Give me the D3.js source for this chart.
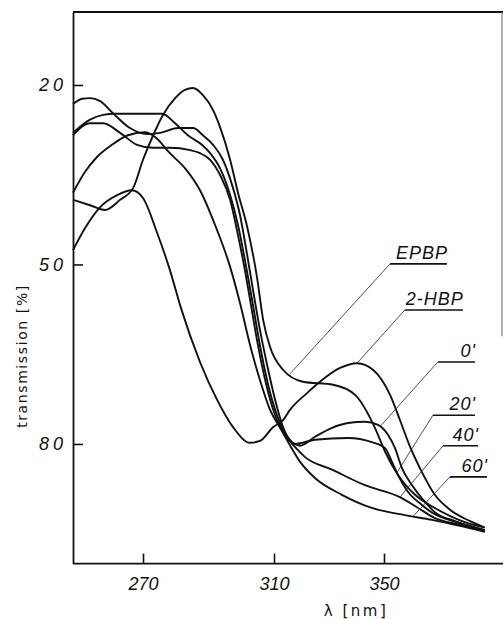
<!DOCTYPE html>
<html>
<head>
<meta charset="utf-8">
<script src="https://cdn.jsdelivr.net/npm/d3@7"></script>
<style>
  body { margin: 0; background: #fff; }
  svg { display: block; }
  .tick text { font-family: "Liberation Sans", sans-serif; font-style: italic; font-size: 18px; fill: #111; }
  .lbl { font-family: "Liberation Sans", sans-serif; font-style: italic; font-size: 18px; fill: #111; }
  .ttl { font-family: "DejaVu Sans", sans-serif; fill: #111; }
</style>
</head>
<body>
<div id="chart"></div>
<script>
// wavelength (nm) and transmission (%)
const lamEPBP = [248.6, 253.8, 258.4, 263, 267, 270, 273.1, 275.8, 279.8, 282.8, 285.3, 288.3, 291.4, 293.5, 296.6, 299, 301.8, 304.8, 306.7, 308.8, 313.3, 320.5, 331.5, 339.5, 346.7, 350.4, 355.1, 361.3, 368.5, 380.2, 386];
const valEPBP = [39.2, 40.1, 40.9, 39.2, 37.2, 32.5, 28.4, 25.3, 22.2, 20.8, 20.5, 21.7, 24.2, 27, 32.5, 38, 43.7, 52.1, 59.3, 63.8, 67.6, 69.6, 70.1, 71.8, 77.3, 81.3, 85.2, 88.5, 90.7, 93.2, 93.9];

const lamHBP = [248.6, 252.3, 256.9, 262.1, 266.6, 270, 274.3, 278.2, 281.6, 287.4, 292.6, 297.5, 302.7, 305.7, 309.7, 313.3, 315.8, 322, 326.7, 334, 340.2, 346, 352.2, 355.8, 359.5, 363.8, 368.5, 374, 381.3, 386.7];
const valHBP = [47.6, 43.9, 40.4, 38.4, 37.6, 38.9, 44.7, 50.9, 57.3, 66.3, 72.6, 77.2, 79.8, 79.5, 77.2, 76, 74.3, 71.5, 69.6, 67.3, 66.5, 67.6, 71.8, 76, 80.5, 84.7, 88.5, 91, 92.9, 94];

const lam0 = [248.6, 251.4, 253.8, 256.9, 260.8, 266, 271.2, 275.2, 280.7, 285.3, 288.3, 291.4, 294.4, 297.2, 299.6, 301.8, 303.6, 305.7, 307.9, 310.4, 313.3, 316.5, 319.5, 324.9, 331.1, 336.9, 343.1, 347.8, 351.5, 354, 356.5, 360.2, 364.9, 368.5, 375.8, 386.7];
const val0 = [23.2, 22.3, 22.2, 22.7, 24.7, 27.2, 28.2, 28, 27.2, 27.2, 28.4, 30, 32.5, 36.7, 41.7, 48.4, 54.3, 60.9, 66.8, 72.6, 77.2, 79.7, 80.3, 78.8, 77.3, 76.5, 76.3, 76.8, 78.5, 80.7, 84, 86.9, 89.7, 91.4, 92.9, 94.4];

const lam20 = [248.6, 253.8, 257.8, 261.5, 269.1, 275.8, 279.8, 283.7, 288, 290.5, 293.5, 296.6, 299, 301.1, 303.3, 305.7, 308.2, 311.1, 314.4, 317.6, 324.9, 336.9, 345.6, 350.4, 352.9, 355.1, 358.7, 363.8, 367.5, 375.8, 386.7];
const val20 = [28, 25.8, 25, 24.8, 24.8, 24.8, 26.4, 28.4, 30, 31.4, 33.9, 38.4, 43.4, 49.2, 55.9, 63.5, 70.1, 75.2, 78.5, 80, 79.3, 79, 79.7, 80.7, 83, 85.2, 88, 90.2, 91.5, 93, 94.4];

const lam40 = [248.6, 253.8, 257.8, 263, 268.2, 273.1, 278.2, 284.4, 287.4, 290.5, 293.5, 296.6, 299, 301.1, 302.7, 304.8, 307.3, 310.4, 314, 317.6, 321.3, 331.1, 343.1, 355.8, 362.4, 368.5, 377.6, 386.7];
const val40 = [28.4, 26.4, 26.4, 28, 30, 30.5, 30.5, 30.9, 31.4, 32.5, 35, 39.2, 45.1, 50.9, 55.9, 62.6, 69.3, 75.2, 78.5, 80.5, 82.2, 84.3, 86.9, 88.9, 90.7, 92.4, 93.5, 94.5];

const lam60 = [248.6, 252.3, 256, 260.5, 265.4, 270.6, 273.7, 278.2, 282.8, 287.4, 292, 296.6, 299.6, 302.7, 305.7, 308.8, 312.2, 315.8, 319.5, 324.9, 334.7, 345.6, 357.6, 367.5, 377.6, 386.7];
const val60 = [38, 34.5, 32, 30, 28.4, 27.9, 28.7, 31.4, 33.9, 37.6, 43.4, 50.4, 56.4, 63.5, 69.3, 74.3, 77.3, 80.2, 83, 85.7, 88.5, 90.7, 91.9, 92.7, 93.7, 94.7];

const xTicks = [270, 310, 350];
const yTicks = [20, 50, 80];

// label callouts: name, wavelength where the leader hits the curve, underline ends and level
const labelNames = ["EPBP", "2-HBP", "0'", "20'", "40'", "60'"];
const labelTouch = [315.8, 340.2, 348.5, 354.7, 355.8, 360.5];
const labelLeft = [352.2, 357.6, 369.6, 367.8, 371.5, 374];
const labelRight = [372.9, 378.7, 383.1, 383.1, 384.2, 387.5];
const labelLevel = [49.9, 57.6, 66.3, 75.2, 80.3, 85.5];

let series = [
    { name: "EPBP", lam: lamEPBP, val: valEPBP },
    { name: "2-HBP", lam: lamHBP, val: valHBP },
    { name: "0'", lam: lam0, val: val0 },
    { name: "20'", lam: lam20, val: val20 },
    { name: "40'", lam: lam40, val: val40 },
    { name: "60'", lam: lam60, val: val60 }
];
series.forEach(s => s.points = s.lam.map((l, i) => ({ lam: l, val: s.val[i] })));

let W = 504, H = 619;
let svg = d3.select("#chart").append("svg").attr("width", W).attr("height", H);

// the printed wavelength axis is not evenly spaced, so piecewise scale
let x = d3.scaleLinear().domain([248.6, 270, 310, 350, 393.3]).range([73, 143, 274, 384, 503]);
let y = d3.scaleLinear().domain([7.8, 100]).range([12, 563.6]);

let line = d3.line().x(d => x(d.lam)).y(d => y(d.val)).curve(d3.curveMonotoneX);

svg.append("g").selectAll("path")
    .data(series)
    .enter()
    .append("path")
    .attr("d", d => line(d.points))
    .attr("fill", "none")
    .attr("stroke", "#111")
    .attr("stroke-width", 1.9)
    .attr("stroke-linejoin", "round");

// frame
let x0 = x.range()[0], x1 = x.range()[4], yTop = y.range()[0], yBot = y.range()[1];
svg.append("line").attr("x1", x0).attr("x2", x1).attr("y1", yTop).attr("y2", yTop)
    .attr("stroke", "#111").attr("stroke-width", 1.8);
svg.append("line").attr("x1", x1 - 1).attr("x2", x1 - 1).attr("y1", yTop).attr("y2", y(62))
    .attr("stroke", "#666").attr("stroke-width", 1);

let xAxis = svg.append("g")
    .attr("transform", "translate(0," + yBot + ")")
    .call(d3.axisBottom(x).tickValues(xTicks).tickSize(-10).tickSizeOuter(0).tickPadding(14).tickFormat(d3.format("d")));
let yAxis = svg.append("g")
    .attr("transform", "translate(" + x0 + ",0)")
    .call(d3.axisLeft(y).tickValues(yTicks).tickSize(-10).tickSizeOuter(0).tickFormat(d3.format("d")));

[xAxis, yAxis].forEach(a => {
    a.select(".domain").attr("stroke", "#111").attr("stroke-width", 1.8);
    a.selectAll(".tick line").attr("stroke", "#111").attr("stroke-width", 1.6);
});
xAxis.select(".domain").attr("d", "M" + x0 + ",0H" + x1);
yAxis.selectAll(".tick text")
    .attr("text-anchor", "start")
    .attr("x", -34)
    .attr("letter-spacing", "4px");

// axis titles
svg.append("text")
    .attr("class", "ttl")
    .attr("transform", "translate(27,356) rotate(-90)")
    .attr("text-anchor", "middle")
    .attr("font-size", "14px")
    .attr("letter-spacing", "1.6px")
    .text("transmission [%]");
svg.append("text")
    .attr("class", "ttl")
    .attr("x", 356)
    .attr("y", 616)
    .attr("text-anchor", "middle")
    .attr("font-size", "15px")
    .attr("letter-spacing", "2.5px")
    .text("λ  [nm]");

// callouts
function valueAt(s, l) {
    let i = d3.bisector(d => d.lam).left(s.points, l);
    let a = s.points[Math.max(i - 1, 0)], b = s.points[Math.min(i, s.points.length - 1)];
    if (a === b) return a.val;
    return a.val + (b.val - a.val) * (l - a.lam) / (b.lam - a.lam);
}

let labelLayer = svg.append("g");
labelNames.forEach((name, i) => {
    let s = series.find(d => d.name === name);
    let ly = y(labelLevel[i]);
    labelLayer.append("line")
        .attr("x1", x(labelLeft[i])).attr("y1", ly)
        .attr("x2", x(labelTouch[i])).attr("y2", y(valueAt(s, labelTouch[i])))
        .attr("stroke", "#222").attr("stroke-width", 0.8);
    labelLayer.append("line")
        .attr("x1", x(labelLeft[i])).attr("x2", x(labelRight[i]))
        .attr("y1", ly).attr("y2", ly)
        .attr("stroke", "#111").attr("stroke-width", 1.6);
    labelLayer.append("text")
        .attr("class", "lbl")
        .attr("x", x(labelRight[i]) + 1)
        .attr("y", ly - 5)
        .attr("text-anchor", "end")
        .attr("letter-spacing", "1px")
        .text(name);
});
</script>
</body>
</html>
